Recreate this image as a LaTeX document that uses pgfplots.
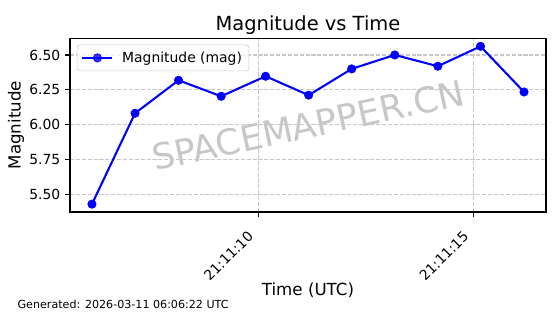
\documentclass[border=0pt]{standalone}
\usepackage{fontspec}
\setmainfont{DejaVu Sans}
\usepackage{pgfplots}
\pgfplotsset{compat=1.18}
\begin{document}
\begin{tikzpicture}
\begin{axis}[
  at={(0,0)}, anchor=south west,
  scale only axis, width=342.7pt, height=125pt,
  xmin=5.63, xmax=16.68, ymin=5.3715, ymax=6.619,
  xtick={10,15}, xticklabels={21:11:10,21:11:15},
  ytick={5.5,5.75,6,6.25,6.5},
  yticklabel style={/pgf/number format/fixed, /pgf/number format/fixed zerofill, /pgf/number format/precision=2, /pgf/number format/assume math mode=true},
  tick label style={font=\fontsize{10}{12}\selectfont},
  xticklabel style={rotate=45, anchor=north east, inner sep=0pt, xshift=-12.5pt, yshift=-0.8pt},
  tick align=outside, tick pos=left, major tick length=3.5pt,
  every tick/.style={black, line width=0.8pt},
  axis line style={line width=0.8pt},
  grid=major,
  major grid style={black!22, line width=0.8pt, dash pattern=on 2.96pt off 1.28pt},
  title={Magnitude vs Time},
  title style={font=\fontsize{14}{16}\selectfont, at={(0.5,1)}, anchor=base, yshift=0pt},
  xlabel={Time (UTC)},
  xlabel style={font=\fontsize{12}{14}\selectfont, at={(axis description cs:0.5,0)}, anchor=base, yshift=-59.8pt},
  ylabel={Magnitude},
  ylabel style={font=\fontsize{12}{14}\selectfont, at={(axis description cs:0,0.5)}, anchor=base, yshift=35.6pt},
  legend style={at={(0,1)}, anchor=north west, xshift=5pt, yshift=-4.5pt, draw=black!20, rounded corners=2pt, fill=white, fill opacity=0.8, text opacity=1, font=\fontsize{10}{12}\selectfont, inner xsep=3pt, inner ysep=2.8pt, /tikz/every odd column/.append style={column sep=4.3pt}},
  legend image code/.code={\draw[mark repeat=2,mark phase=2,#1] plot coordinates {(0pt,0pt) (10.8pt,0pt) (21.6pt,0pt)};},
  legend cell align=left,
]
\node[rotate=12, text=black!22, font=\fontsize{25.5}{30}\selectfont] at (rel axis cs:0.5,0.5) {SPACEMAPPER.CN};
\addplot[blue, line width=1.5pt, mark=*, mark size=3pt, mark options={solid, fill=blue, line width=0.5pt}]
  coordinates {
  (6.14,5.428) (7.14,6.081) (8.15,6.318) (9.14,6.203) (10.17,6.347) (11.17,6.211)
  (12.17,6.400) (13.17,6.500) (14.17,6.419) (15.16,6.562) (16.17,6.234)
  };
\addlegendentry{Magnitude (mag)}
\end{axis}
\node[anchor=base west, inner sep=0pt, font=\fontsize{8}{10}\selectfont] at (-37.9pt,-69.5pt) {Generated: 2026-03-11 06:06:22 UTC};
\pgfresetboundingbox
\useasboundingbox (-50.4pt,-73.44pt) rectangle (352.8pt,152.64pt);
\end{tikzpicture}
\end{document}
